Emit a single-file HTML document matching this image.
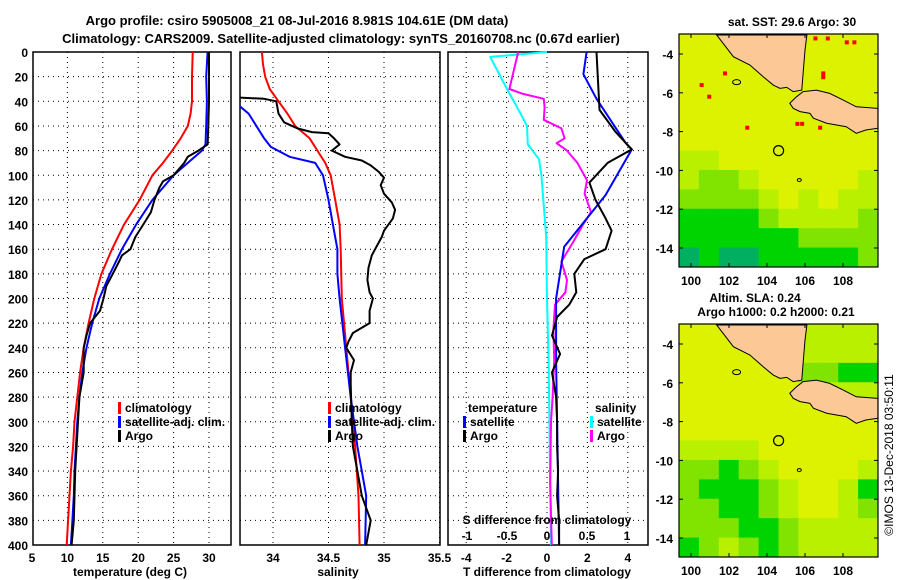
<!DOCTYPE html>
<html><head><meta charset="utf-8"><style>
body{margin:0;background:#fff}
svg{display:block;font-family:"Liberation Sans",sans-serif;font-weight:bold}
</style></head><body>
<svg id="c" width="900" height="580" viewBox="0 0 900 580"></svg>
<script>
// ---------- data ----------
const tDepthClim=[0,20,40,50,60,70,80,90,100,120,140,160,180,200,220,240,260,280,300,320,340,360,380,400];
const tClim=[27.7,27.6,27.6,27.4,27,26,24.8,23.5,22,20.2,18,16.3,14.8,13.8,13,12.3,11.8,11.4,11,10.8,10.5,10.3,10.1,9.9];
const tDepthSat=[0,20,40,60,75,80,90,100,120,140,160,180,200,220,240,260,280,300,320,340,360,380,400];
const tSat=[29.8,29.6,29.7,29.6,29.5,29.0,27,25,22,19.7,17.7,16,14.5,13.5,12.7,12.1,11.7,11.4,11.2,11,10.9,10.7,10.5];
const tDepthArgo=[0,20,40,60,75,80,85,90,100,105,110,120,130,140,150,160,165,170,180,190,200,210,220,230,240,260,280,300,320,340,360,380,400];
const tArgo=[30,30,30,29.9,29.8,28.5,27,26.5,25,23.5,23,22.3,21.8,20.7,19.6,18.9,17.7,17.3,16.4,15.5,15.1,14.6,13.2,12.7,12.3,12.3,11.7,11.5,11.3,11.1,11.0,10.9,10.6];
const sDepthClim=[0,10,20,30,40,50,60,70,80,90,100,120,140,160,200,240,280,320,360,400];
const sClim=[33.90,33.91,33.93,33.97,34.05,34.13,34.2,34.33,34.4,34.47,34.52,34.56,34.6,34.61,34.62,34.66,34.7,34.74,34.77,34.78];
const sDepthSat=[44,50,60,70,77,85,90,100,120,140,160,180,200,240,280,320,340,360,400];
const sSat=[33.70,33.78,33.85,33.92,33.98,34.15,34.38,34.45,34.5,34.54,34.58,34.58,34.6,34.65,34.7,34.76,34.8,34.84,34.83];
const sDepthArgo=[37,38,40,50,57,62,65,66,70,75,80,85,88,92,97,102,108,115,122,128,135,145,150,160,165,175,185,195,200,210,220,228,235,240,250,260,270,300,320,340,360,380,400];
const sArgo=[33.7,33.92,34.03,34.05,34.1,34.22,34.35,34.5,34.55,34.6,34.53,34.65,34.8,34.88,34.95,35.0,34.97,35.0,35.07,35.1,35.08,35.0,34.98,34.92,34.89,34.86,34.85,34.87,34.9,34.87,34.87,34.72,34.68,34.66,34.73,34.7,34.7,34.71,34.72,34.76,34.8,34.88,34.84];
const dtDepthSat=[0,18,38,74,79,116,158,200,250,300,350,400];
const dtSat=[1.96,1.8,2.45,3.9,4.2,2.9,0.85,0.45,0.45,0.5,0.55,0.6];
const dtDepthArgo=[0,47,65,79,90,106,120,135,145,160,168,180,195,205,215,230,245,260,280,300,320,340,360,380,400];
const dtArgo=[2.45,2.6,3.4,4.2,3.0,2.1,2.4,2.9,3.2,2.9,1.85,1.35,1.45,1.1,0.5,0.25,0.65,0.25,0.45,0.5,0.5,0.55,0.5,0.6,0.6];
const dsDepthSat=[0,4,30,50,60,75,87,100,150,200,250,300,400];
const dsSat=[0,-0.71,-0.5,-0.33,-0.25,-0.24,-0.1,-0.07,-0.01,0,0.02,0.03,0.05];
const dsDepthArgo=[0,30,34,38,45,55,62,70,74,80,90,104,115,130,140,155,170,185,195,205,225,250,280,300,350,400];
const dsArgo=[-0.36,-0.47,-0.3,-0.04,-0.03,-0.04,0.18,0.22,0.12,0.25,0.38,0.5,0.47,0.55,0.45,0.32,0.18,0.25,0.23,0.1,0.08,0.09,0.07,0.05,0.04,0.06];
const depthTicks=[0,20,40,60,80,100,120,140,160,180,200,220,240,260,280,300,320,340,360,380,400];
const tTicks=[5,10,15,20,25,30];
const sTicks=["34","34.5","35","35.5"];
const dtTicks=[-4,-2,0,2,4];
const dsTicks=[-1,-0.5,0,0.5,1];
const lonTicks=[100,102,104,106,108];
const latTicks=[-4,-6,-8,-10,-12,-14];
const sstGrid=[
[0,0,0,0,0,0,0,0,0,0],[0,0,0,0,0,0,0,0,0,0],[0,0,0,0,0,0,0,0,0,0],[0,0,0,0,0,0,0,0,0,0],
[0,0,0,0,0,0,0,0,0,0],[0,0,0,0,0,0,0,0,0,0],[1,1,0,0,0,0,0,0,0,0],[1,2,2,1,0,0,0,0,0,1],
[2,2,2,2,1,0,1,0,1,1],[3,3,3,3,2,1,1,1,1,2],[3,3,3,3,3,3,2,2,2,2],[4,3,4,4,3,3,3,3,3,2]];
const slaGrid=[
[0,0,0,0,0,0,1,1,1,1],[0,0,0,0,0,0,1,1,1,1],[0,0,0,0,0,0,2,2,3,3],[0,0,0,0,0,0,0,1,1,1],
[0,0,0,0,0,0,0,0,0,0],[0,0,0,0,0,0,0,0,0,0],[1,1,1,1,0,0,0,0,0,0],[2,2,3,2,1,0,0,0,0,1],
[2,3,3,3,2,1,0,0,1,3],[2,2,3,3,2,1,0,0,1,2],[2,2,2,3,3,2,1,1,1,1],[3,2,1,2,3,2,1,1,1,1]];
const redLon=[101.79,100.56,100.96,102.96,105.6,105.85,106.8,106.96,106.96,106.55,107.2,108.2,108.6];
const redLat=[-5.0,-5.6,-6.2,-7.8,-7.6,-7.6,-7.8,-5.0,-5.2,-3.2,-3.2,-3.4,-3.4];
const sumatra=[[101.35,-3.02],[102.23,-4.14],[103.1,-4.57],[103.8,-5.17],[104.33,-5.6],[104.68,-5.77],[105.04,-5.72],[105.38,-5.94],[105.83,-5.86],[105.9,-5.0],[106,-3.8],[106.1,-3.02]];
const java=[[105.2,-6.54],[105.56,-6.2],[105.9,-5.94],[106.6,-5.86],[107.3,-6.03],[108.0,-6.37],[108.7,-6.72],[109.84,-6.8],[109.84,-7.83],[109.2,-7.92],[108.7,-8.09],[108.17,-7.75],[107.14,-7.57],[106.44,-7.31],[106.26,-7.06],[105.74,-6.97],[105.38,-6.8]];
const argoLon=104.61, argoLat=-8.981;

// ---------- helpers ----------
const svg=document.getElementById('c');
const NS='http://www.w3.org/2000/svg';
function el(tag,attrs,parent){const e=document.createElementNS(NS,tag);for(const k in attrs)e.setAttribute(k,attrs[k]);(parent||svg).appendChild(e);return e;}
function txt(s,x,y,anchor,size,parent){const t=el('text',{x:x,y:y,'text-anchor':anchor||'middle','font-size':size||12,fill:'#000'},parent);t.textContent=s;return t;}
const Y0=52,Y1=545;
const yD=d=>Y0+d*(Y1-Y0)/400;
const TICKY=562, TITLEY=576;

function panel(name){
  const g=el('g',{});
  
  
  return g;
}
function grid(g,x0,x1,xs){
  depthTicks.forEach(d=>{const l=el('line',{x1:x0,x2:x1,y1:yD(d),y2:yD(d),stroke:'#000','stroke-width':1,'stroke-dasharray':'1,4'},g);
    });
  xs.forEach(x=>{const l=el('line',{x1:x,x2:x,y1:Y0,y2:Y1,stroke:'#000','stroke-width':1,'stroke-dasharray':'1,4'},g);
    });
  const r=el('rect',{x:x0,y:Y0,width:x1-x0,height:Y1-Y0,fill:'none',stroke:'#000','stroke-width':1.5},g);
  
}
function line(g,xs,ds,xf,color,w,x0,x1,name){
  const pts=xs.map((v,i)=>xf(v).toFixed(1)+','+yD(ds[i]).toFixed(1)).join(' ');
  const cp=el('clipPath',{id:'cp'+name},g);el('rect',{x:x0,y:Y0-2,width:x1-x0,height:Y1-Y0+4},cp);
  const p=el('polyline',{points:pts,fill:'none',stroke:color,'stroke-width':w,'clip-path':'url(#cp'+name+')','stroke-linejoin':'round'},g);
  
}
function legend(g,x,y,color,label,name){
  const r=el('rect',{x:x,y:y-10,width:3,height:12,fill:color},g);
  
  const t=txt(label,x+7,y,'start',12,g);
  
}

let t=txt('Argo profile: csiro 5905008_21 08-Jul-2016 8.981S 104.61E (DM data)',297,25,'middle',13);

t=txt('Climatology: CARS2009. Satellite-adjusted climatology: synTS_20160708.nc (0.67d earlier)',341,43,'middle',13);


depthTicks.forEach(d=>{const l=txt(String(d),28,yD(d)+5,'end',12);});

// ---- panel 1 temperature ----
const P1=[33,231], xT=v=>32+(v-5)*(209-32)/25;
let g=panel('temperature-panel');
grid(g,P1[0],P1[1],tTicks.slice(1).map(xT));
line(g,tClim,tDepthClim,xT,'#f00',2,P1[0],P1[1],'temp-climatology-line');
line(g,tSat,tDepthSat,xT,'#00f',2,P1[0],P1[1],'temp-satellite-line');
line(g,tArgo,tDepthArgo,xT,'#000',2,P1[0],P1[1],'temp-argo-line');
tTicks.forEach(v=>{const l=txt(String(v),xT(v),TICKY,'middle',12,g);});
t=txt('temperature (deg C)',130,TITLEY,'middle',12,g);
legend(g,118,412,'#f00','climatology','legend-climatology');
legend(g,118,426,'#00f','satellite-adj. clim.','legend-satellite');
legend(g,118,440,'#000','Argo','legend-argo');

// ---- panel 2 salinity ----
const P2=[240,440], xS=v=>273+(v-34)*111;
g=panel('salinity-panel');
grid(g,P2[0],P2[1],sTicks.map(s=>xS(+s)));
line(g,sClim,sDepthClim,xS,'#f00',2,P2[0],P2[1],'sal-climatology-line');
line(g,sSat,sDepthSat,xS,'#00f',2,P2[0],P2[1],'sal-satellite-line');
line(g,sArgo,sDepthArgo,xS,'#000',2,P2[0],P2[1],'sal-argo-line');
sTicks.forEach(s=>{const l=txt(s,xS(+s),TICKY,'middle',12,g);});
t=txt('salinity',338,TITLEY,'middle',12,g);
legend(g,328,412,'#f00','climatology','legend-climatology');
legend(g,328,426,'#00f','satellite-adj. clim.','legend-satellite');
legend(g,328,440,'#000','Argo','legend-argo');

// ---- panel 3 differences ----
const P3=[448,648], xDT=v=>547+v*20.2, xDS=v=>547+v*80;
g=panel('difference-panel');
grid(g,P3[0],P3[1],dtTicks.map(xDT));
line(g,dsSat,dsDepthSat,xDS,'#0ff',2,P3[0],P3[1],'sdiff-satellite-line');
line(g,dsArgo,dsDepthArgo,xDS,'#f0f',2,P3[0],P3[1],'sdiff-argo-line');
line(g,dtSat,dtDepthSat,xDT,'#00f',2,P3[0],P3[1],'tdiff-satellite-line');
line(g,dtArgo,dtDepthArgo,xDT,'#000',2,P3[0],P3[1],'tdiff-argo-line');
dtTicks.forEach(v=>{const l=txt(String(v),xDT(v),TICKY,'middle',12,g);});
dsTicks.forEach(v=>{const l=txt(String(v),xDS(v),540,'middle',12,g);});
t=txt('S difference from climatology',547,524,'middle',12,g);
t=txt('T difference from climatology',547,TITLEY,'middle',12,g);
t=txt('temperature',468,412,'start',12,g);
legend(g,463,426,'#00f','satellite','legend-t-satellite');
legend(g,463,440,'#000','Argo','legend-t-argo');
t=txt('salinity',595,412,'start',12,g);
legend(g,590,426,'#0ff','satellite','legend-s-satellite');
legend(g,590,440,'#f0f','Argo','legend-s-argo');

// ---- maps ----
const levels=['#dcf200','#b8f000','#80e400','#00d400','#00b060'];
function drawMap(name,top,grd,reds){
  const X0=679,X1=878,H=233;
  const xL=l=>691+(l-100)*19, yL=a=>top+20+(-4-a)*19.4;
  const mg=el('g',{});
  
  
  const cp=el('clipPath',{id:'cp'+name},mg);el('rect',{x:X0,y:top,width:X1-X0,height:H},cp);
  const inner=el('g',{'clip-path':'url(#cp'+name+')'},mg);
  const cw=(X1-X0)/10, ch=H/12;
  grd.forEach((row,r)=>row.forEach((v,c)=>{
    const cell=el('rect',{x:X0+c*cw,y:top+r*ch,width:cw+0.5,height:ch+0.5,fill:levels[v]},inner);
    
  }));
  if(reds){redLon.forEach((lo,i)=>{const d=el('rect',{x:xL(lo)-2,y:yL(redLat[i])-2,width:4,height:4,fill:'#f00'},inner);
    });}
  [sumatra,java].forEach((poly,k)=>{
    const p=el('polygon',{points:poly.map(q=>xL(q[0])+','+yL(q[1])).join(' '),fill:'#fcc896',stroke:'#000','stroke-width':1},inner);
    
  });
  el('ellipse',{cx:xL(102.4),cy:yL(-5.45),rx:4,ry:2.5,fill:'none',stroke:'#000'},inner);
  el('ellipse',{cx:xL(105.7),cy:yL(-10.5),rx:2,ry:1.5,fill:'none',stroke:'#000'},inner);
  const ci=el('circle',{cx:xL(argoLon),cy:yL(argoLat),r:5,fill:'none',stroke:'#000','stroke-width':1.2},inner);
  
  el('rect',{x:X0,y:top,width:X1-X0,height:H,fill:'none',stroke:'#000','stroke-width':1.2},mg);
  latTicks.forEach(a=>{const l=txt(String(a),673,yL(a)+5,'end',12,mg);
    el('line',{x1:X0,x2:X0+4,y1:yL(a),y2:yL(a),stroke:'#000'},mg);el('line',{x1:X1-4,x2:X1,y1:yL(a),y2:yL(a),stroke:'#000'},mg);});
  lonTicks.forEach(lo=>{const l=txt(String(lo),xL(lo),top+H+18,'middle',12,mg);
    el('line',{x1:xL(lo),x2:xL(lo),y1:top,y2:top+4,stroke:'#000'},mg);el('line',{x1:xL(lo),x2:xL(lo),y1:top+H-4,y2:top+H,stroke:'#000'},mg);});
}
drawMap('sst-map',34,sstGrid,true);
drawMap('sla-map',324,slaGrid,false);
t=txt('sat. SST: 29.6 Argo: 30',792,26,'middle',12);
t=txt('Altim. SLA: 0.24',755,302,'middle',12);
t=txt('Argo h1000: 0.2 h2000: 0.21',776,316,'middle',12);
t=txt('©IMOS 13-Dec-2018 03:50:11',0,0,'middle',12);
t.setAttribute('transform','translate(893,455) rotate(-90)');t.setAttribute('font-weight','normal');

</script>
</body></html>
